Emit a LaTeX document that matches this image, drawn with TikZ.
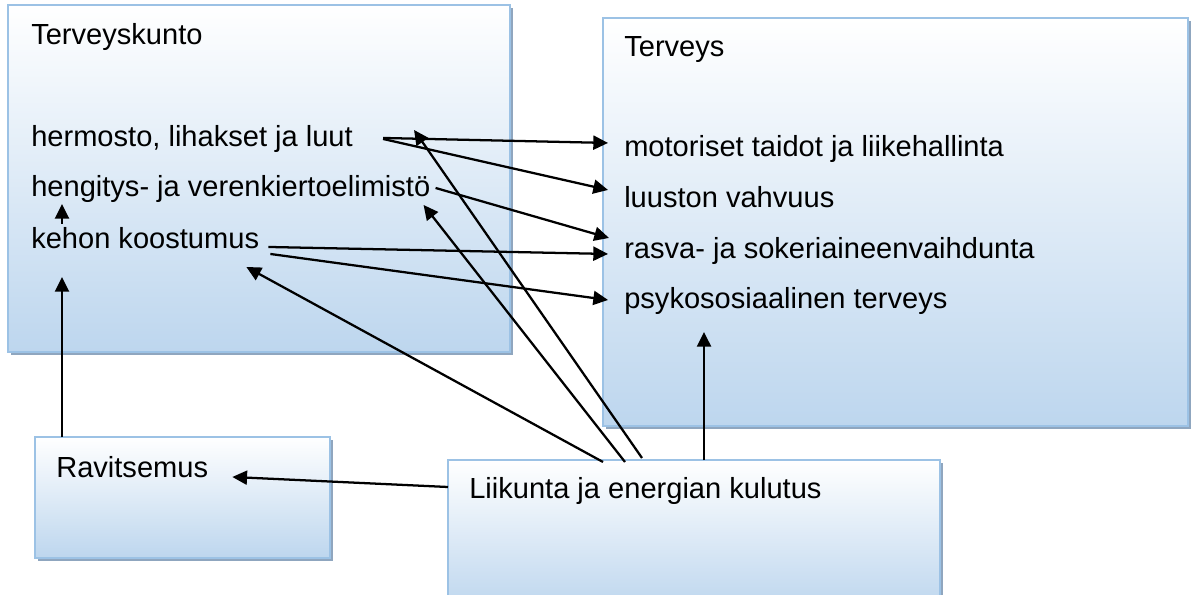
\documentclass[tikz,border=0pt]{standalone}
\usepackage{fontspec}
\setmainfont{Liberation Sans}
\usetikzlibrary{arrows.meta,shadows}
\begin{document}
\begin{tikzpicture}[
        x=0.75pt, y=-0.75pt,
        box/.style={draw=boxedge, line width=1.6pt, top color=white, bottom color=boxfill,
          anchor=north west, inner sep=0pt, outer sep=0pt,
          drop shadow={shadow xshift=2.5pt, shadow yshift=-2.5pt, fill=shadowc, opacity=1}},
        lab/.style={anchor=base west, inner sep=0pt, font=\fontsize{21.8}{26}\selectfont,
          text height=15.5pt, text depth=4.5pt},
        arr/.style={line width=1.7pt, -{Triangle[length=11pt,width=10.5pt]}},
      ]
      \definecolor{boxedge}{HTML}{9CC2E5}
      \definecolor{boxfill}{HTML}{BDD6EE}
      \definecolor{shadowc}{HTML}{8FA6BF}
      \def\pxu{0.75pt}
      \path[use as bounding box] (0,0) rectangle (1194,595);
      \node[box, minimum width=502*\pxu, minimum height=347*\pxu] (kuntobox) at (8,5) {};
      \node[box, minimum width=585*\pxu, minimum height=408*\pxu] (terveysbox) at (603,18) {};
      \node[box, minimum width=295*\pxu, minimum height=121*\pxu] (ravbox) at (35,437) {};
      \node[box, minimum width=492*\pxu, minimum height=150*\pxu] (liikbox) at (448,460) {};
      \node[lab] (kunto) at (31,45) {Terveyskunto};
      \node[lab] (hermosto) at (31,147) {hermosto, lihakset ja luut};
      \node[lab] (hengitys) at (31,197) {hengitys- ja verenkiertoelimistö};
      \node[lab] (kehon) at (31,248) {kehon koostumus};
      \node[lab] (terveys) at (624,57) {Terveys};
      \node[lab] (motoriset) at (624,157) {motoriset taidot ja liikehallinta};
      \node[lab] (luusto) at (624,208) {luuston vahvuus};
      \node[lab] (rasva) at (624,258) {rasva- ja sokeriaineenvaihdunta};
      \node[lab] (psyko) at (624,308) {psykososiaalinen terveys};
      \node[lab] (ravitsemus) at (56,477) {Ravitsemus};
      \node[lab] (liikunta) at (469,498) {Liikunta ja energian kulutus};
      \draw[arr] ([shift={(30,-1.7)}]hermosto.east) -- ([shift={(-16,-6.7)}]motoriset.west);
      \draw[arr] ([shift={(30,-0.7)}]hermosto.east) -- ([shift={(-16,-10.7)}]luusto.west);
      \draw[arr] ([shift={(5,-1.7)}]hengitys.east) -- ([shift={(-15,-12.7)}]rasva.west);
      \draw[arr] ([shift={(9,6.3)}]kehon.east) -- ([shift={(-16,3.3)}]rasva.west);
      \draw[arr] ([shift={(11,13.3)}]kehon.east) -- ([shift={(-16,-0.7)}]psyko.west);
      \draw[arr] ([shift={(194,-2)}]liikbox.north west) -- ([shift={(61,-9.7)}]hermosto.east);
      \draw[arr] ([shift={(177,2)}]liikbox.north west) -- ([shift={(-7,15.3)}]hengitys.east);
      \draw[arr] ([shift={(155,2)}]liikbox.north west) -- ([shift={(-13,26.3)}]kehon.east);
      \draw[arr] ([shift={(256,0)}]liikbox.north west) -- ([shift={(80,31.3)}]psyko.west);
      \draw[arr] ([shift={(0,27)}]liikbox.north west) -- ([shift={(24,7.3)}]ravitsemus.east);
      \draw[arr] ([shift={(27,0)}]ravbox.north west) -- ([shift={(31,36.3)}]kehon.west);
      \draw[arr] ([shift={(31,-16.7)}]kehon.west) -- ([shift={(31,14.3)}]hengitys.west);
    \end{tikzpicture}
\end{document}
